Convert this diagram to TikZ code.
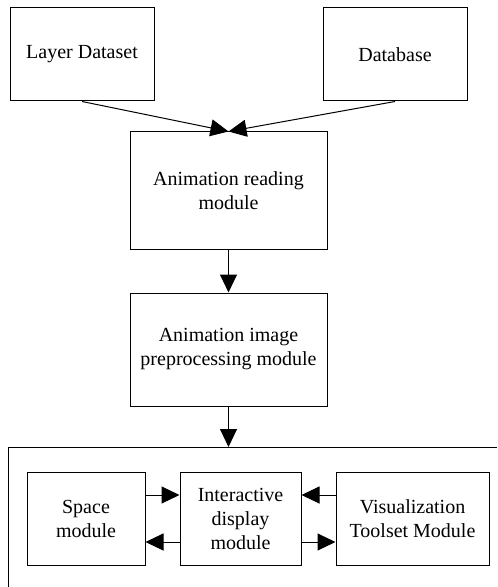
\documentclass[tikz,border=0pt]{standalone}
\usepackage{fontspec}
\setmainfont{Liberation Serif}
\usetikzlibrary{arrows.meta}
\tikzset{
  every picture/.style={line width=0.5pt},
  modbox/.style={rectangle, draw, align=center, inner sep=2pt, font=\fontsize{10}{12}\selectfont},
  flow/.style={-{Triangle[length=9pt, width=8.5pt]}},
}

\begin{document}
\begin{tikzpicture}[x=0.5pt, y=-0.5pt]
\useasboundingbox (0,0) rectangle (497,587);

%% ---- sources ----
\node[modbox, minimum width=72pt, minimum height=46.5pt] (layer) at (82,54.5) {Layer Dataset};
\node[modbox, minimum width=72pt, minimum height=46.5pt] (dbase) at (395,54.5) {Database};

%% ---- processing chain ----
\node[modbox, minimum width=98.5pt, minimum height=58.5pt] (reading) at (228.5,190.5) {Animation reading\\module};
\node[modbox, minimum width=98.5pt, minimum height=56.5pt] (prep) at (228.5,349.5) {Animation image\\preprocessing module};

%% ---- display group (open frame) ----
\coordinate (frametl) at (8,447);
\coordinate (framer) at (497,447);
\coordinate (framebl) at (8,587);
\draw (framer) -- (frametl) -- (framebl);

\node[modbox, minimum width=59pt, minimum height=46.5pt] (space) at (86,518.5) {Space\\module};
\node[modbox, minimum width=60.5pt, minimum height=46.5pt] (inter) at (240.5,518.5) {Interactive\\display\\module};
\node[modbox, minimum width=76.5pt, minimum height=46.5pt] (vis) at (412.5,518.5) {Visualization\\Toolset Module};

%% ---- connectors ----
\draw[flow] (layer.south) -- (reading.north);
\draw[flow] (dbase.south) -- (reading.north);
\draw[flow] (reading.south) -- (prep.north);
\draw[flow] (prep.south) -- (prep.south |- frametl);

\draw[flow] ([yshift=11.75pt]space.east) -- ([yshift=11.75pt]inter.west);
\draw[flow] ([yshift=-11.75pt]inter.west) -- ([yshift=-11.75pt]space.east);
\draw[flow] ([yshift=11.75pt]vis.west) -- ([yshift=11.75pt]inter.east);
\draw[flow] ([yshift=-11.75pt]inter.east) -- ([yshift=-11.75pt]vis.west);
\end{tikzpicture}
\end{document}
